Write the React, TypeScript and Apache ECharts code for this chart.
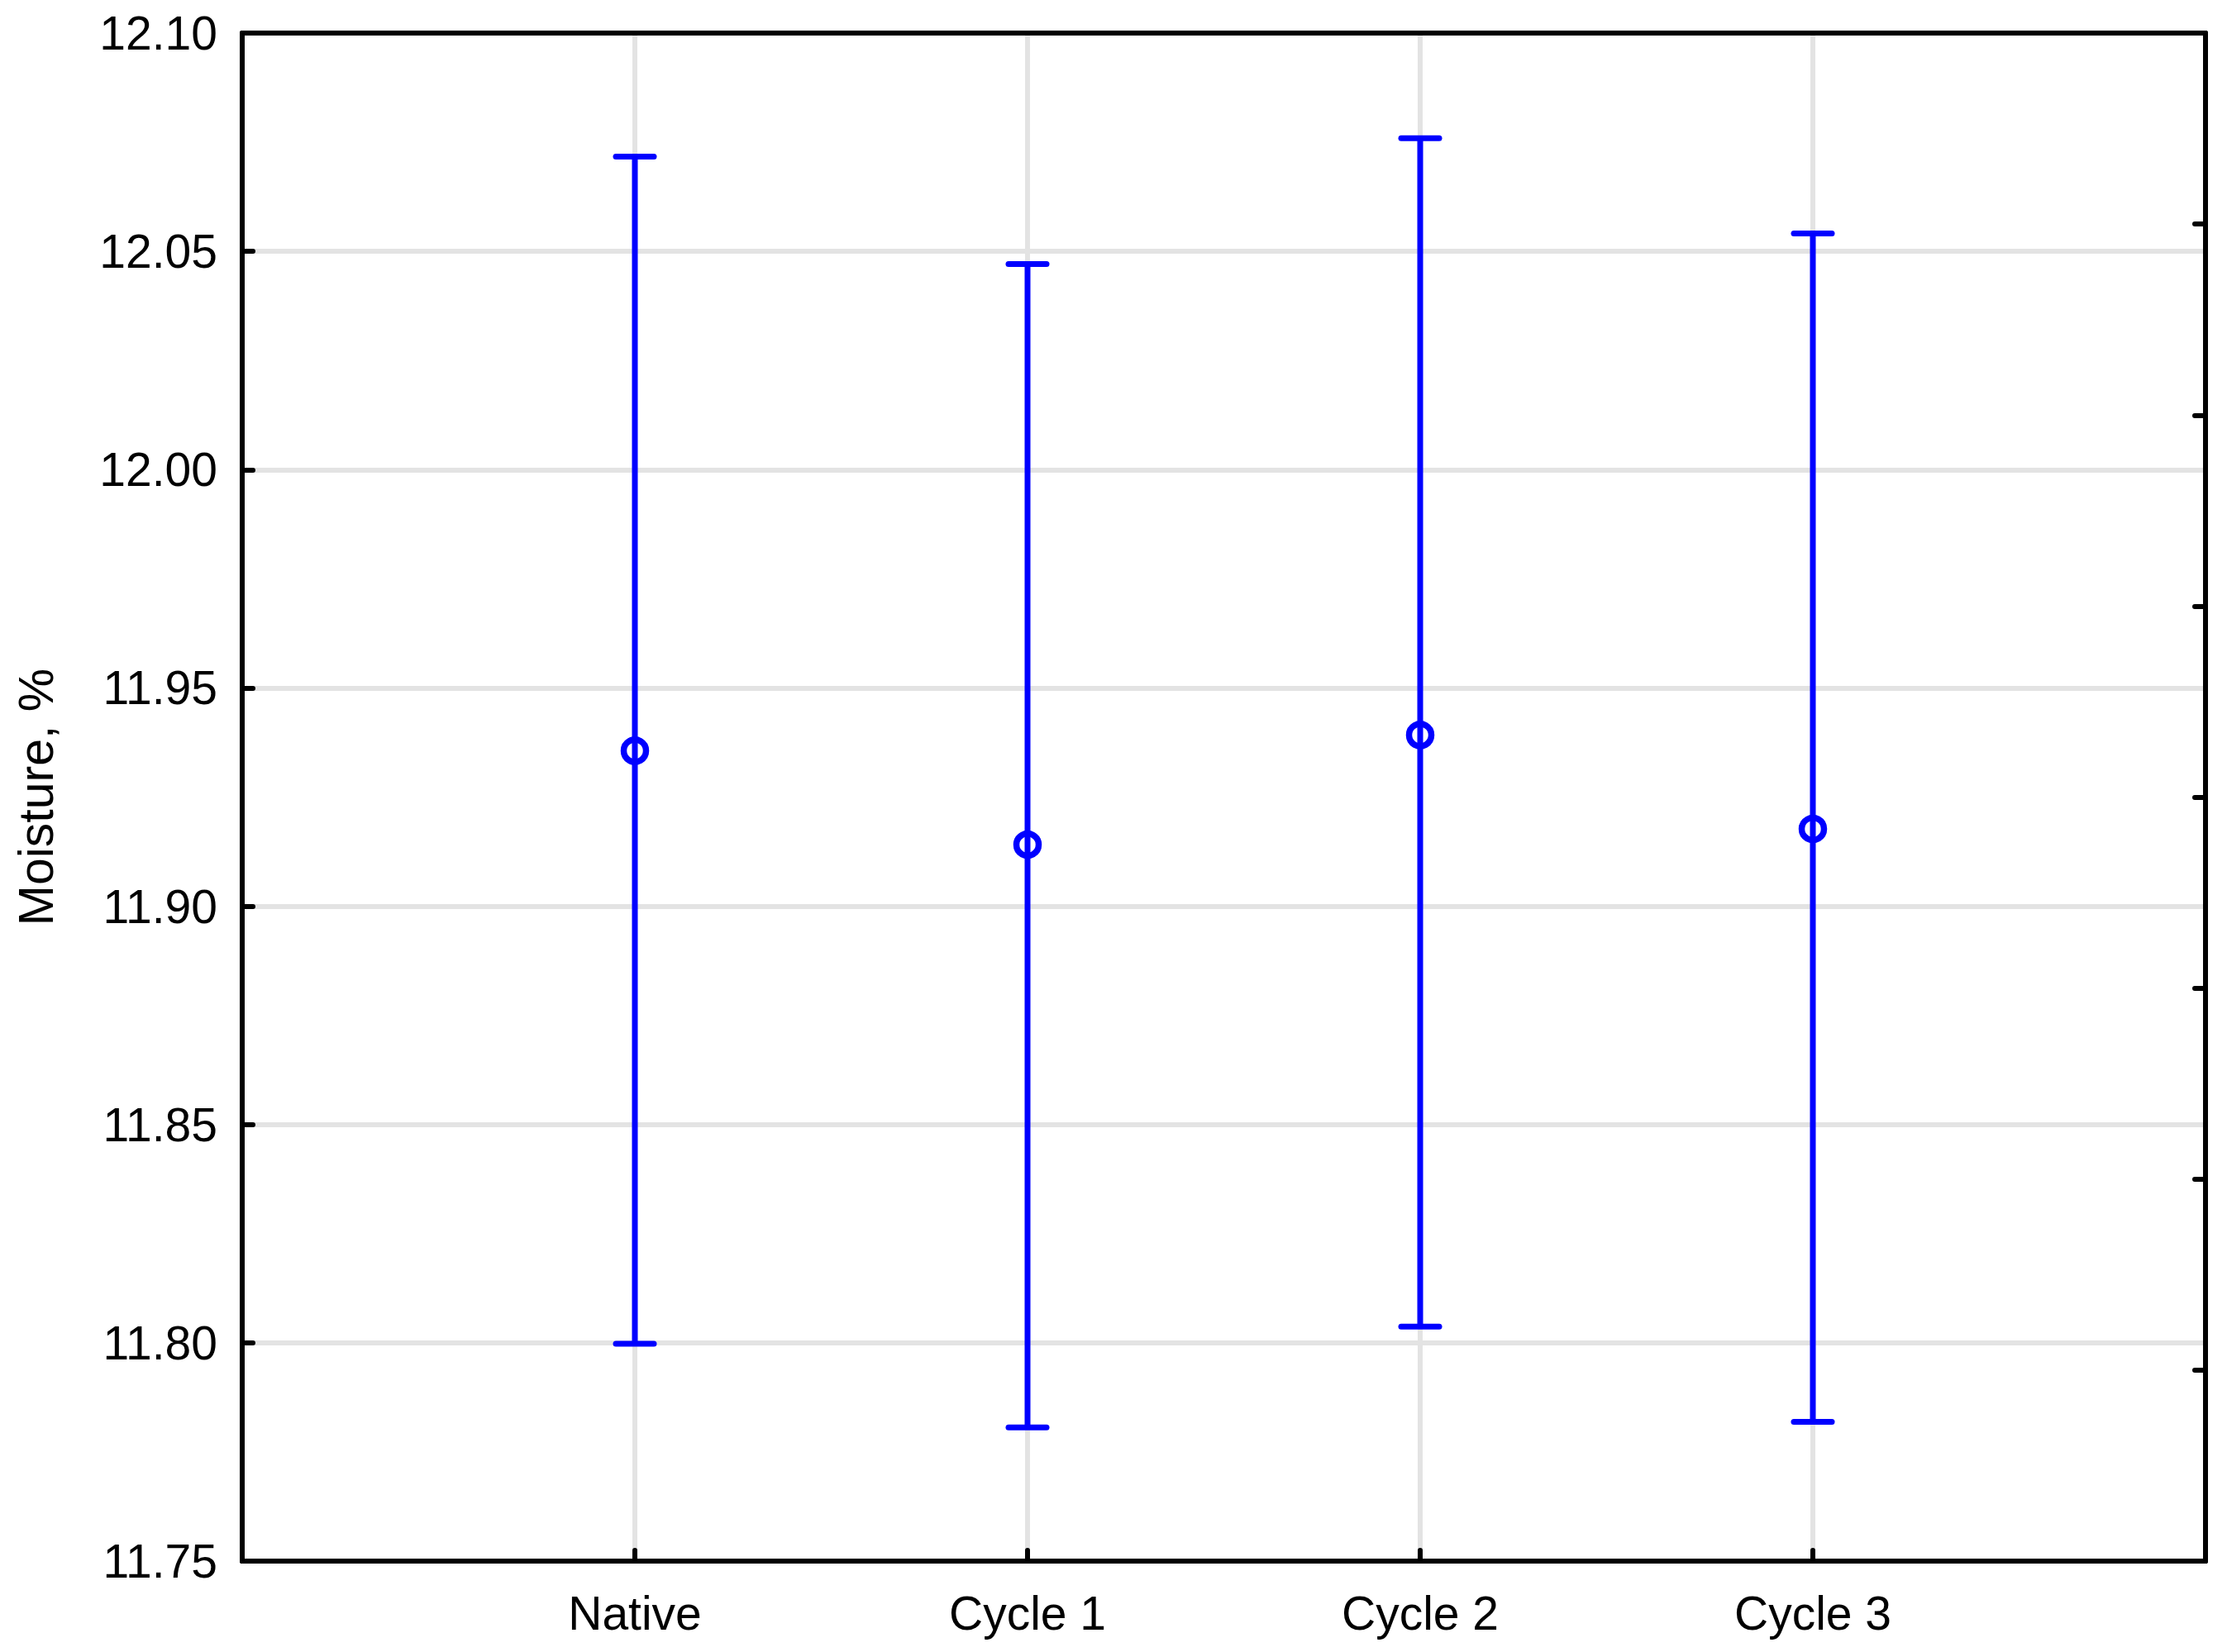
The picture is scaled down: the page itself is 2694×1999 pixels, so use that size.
import React, { useEffect, useRef } from "react";
import * as echarts from "echarts";

const categories = ["Native", "Cycle 1", "Cycle 2", "Cycle 3"];
const means = [11.9356, 11.9141, 11.9392, 11.9177];
const lowerBounds = [11.7998, 11.7806, 11.8037, 11.7819];
const upperBounds = [12.0717, 12.0471, 12.0759, 12.0541];

const yMin = 11.75;
const yMax = 12.1;
const yInterval = 0.05;
const yAxisName = "Moisture, %";

const FONT = "'Liberation Sans', Arial, sans-serif";
const BLUE = "#0000ff";
const GRIDC = "#e3e3e3";

export default function App() {
  const ref = useRef<HTMLDivElement>(null);

  useEffect(() => {
    if (!ref.current) return;
    const chart = echarts.init(ref.current, null, { renderer: "svg" });

    const barData = categories.map((_, i) => [i + 1, means[i], lowerBounds[i], upperBounds[i]]);
    const pointData = categories.map((_, i) => [i + 1, means[i]]);

    const axisLine = { show: true, onZero: false, lineStyle: { color: "#000", width: 6 } };
    const tick = { show: true, inside: true, length: 13, lineStyle: { color: "#000", width: 6, cap: "round" } };

    chart.setOption({
      animation: false,
      backgroundColor: "#fff",
      grid: { left: 293, right: 26, top: 40, bottom: 110, containLabel: false, outerBoundsMode: "none" },
      xAxis: [
        {
          type: "value",
          min: 0,
          max: categories.length + 1,
          interval: 1,
          position: "bottom",
          axisLine,
          axisTick: tick,
          axisLabel: {
            formatter: (v: number) => categories[v - 1] ?? "",
            fontSize: 57,
            fontFamily: FONT,
            color: "#000",
            margin: 34,
          },
          splitLine: { show: true, lineStyle: { color: GRIDC, width: 6 } },
        },
        {
          type: "value",
          min: 0,
          max: categories.length + 1,
          position: "top",
          axisLine,
          axisTick: { show: false },
          axisLabel: { show: false },
          splitLine: { show: false },
        },
      ],
      yAxis: [
        {
          type: "value",
          min: yMin,
          max: yMax,
          interval: yInterval,
          position: "left",
          axisLine,
          axisTick: tick,
          axisLabel: {
            formatter: (v: number) => v.toFixed(2),
            fontSize: 57,
            fontFamily: FONT,
            color: "#000",
            margin: 30,
          },
          splitLine: { show: true, lineStyle: { color: GRIDC, width: 6 } },
          name: yAxisName,
          nameLocation: "middle",
          nameGap: 220,
          nameTextStyle: { fontSize: 59, fontFamily: FONT, color: "#000" },
        },
        {
          type: "value",
          min: 0,
          max: 8,
          interval: 1,
          position: "right",
          axisLine,
          axisTick: tick,
          axisLabel: { show: false },
          splitLine: { show: false },
        },
      ],
      series: [
        {
          type: "custom",
          xAxisIndex: 0,
          yAxisIndex: 0,
          data: barData,
          encode: { x: 0, y: [1, 2, 3] },
          z: 3,
          renderItem: (params: any, api: any) => {
            const x = api.value(0);
            const lo = api.coord([x, api.value(2)]);
            const hi = api.coord([x, api.value(3)]);
            const half = 23;
            const st = { stroke: BLUE, lineWidth: 7, lineCap: "round" };
            return {
              type: "group",
              children: [
                { type: "line", shape: { x1: hi[0], y1: hi[1], x2: lo[0], y2: lo[1] }, style: { stroke: BLUE, lineWidth: 7 } },
                { type: "line", shape: { x1: hi[0] - half, y1: hi[1], x2: hi[0] + half, y2: hi[1] }, style: st },
                { type: "line", shape: { x1: lo[0] - half, y1: lo[1], x2: lo[0] + half, y2: lo[1] }, style: st },
              ],
            };
          },
        },
        {
          type: "scatter",
          xAxisIndex: 0,
          yAxisIndex: 0,
          data: pointData,
          symbol: "circle",
          symbolSize: 27,
          z: 4,
          itemStyle: { color: "transparent", borderColor: BLUE, borderWidth: 7.5, opacity: 1 },
        },
      ],
    });

    return () => chart.dispose();
  }, []);

  return (
    <div
      ref={ref}
      style={{ position: "fixed", left: 0, top: 0, width: 2694, height: 1999, background: "#fff" }}
    />
  );
}
